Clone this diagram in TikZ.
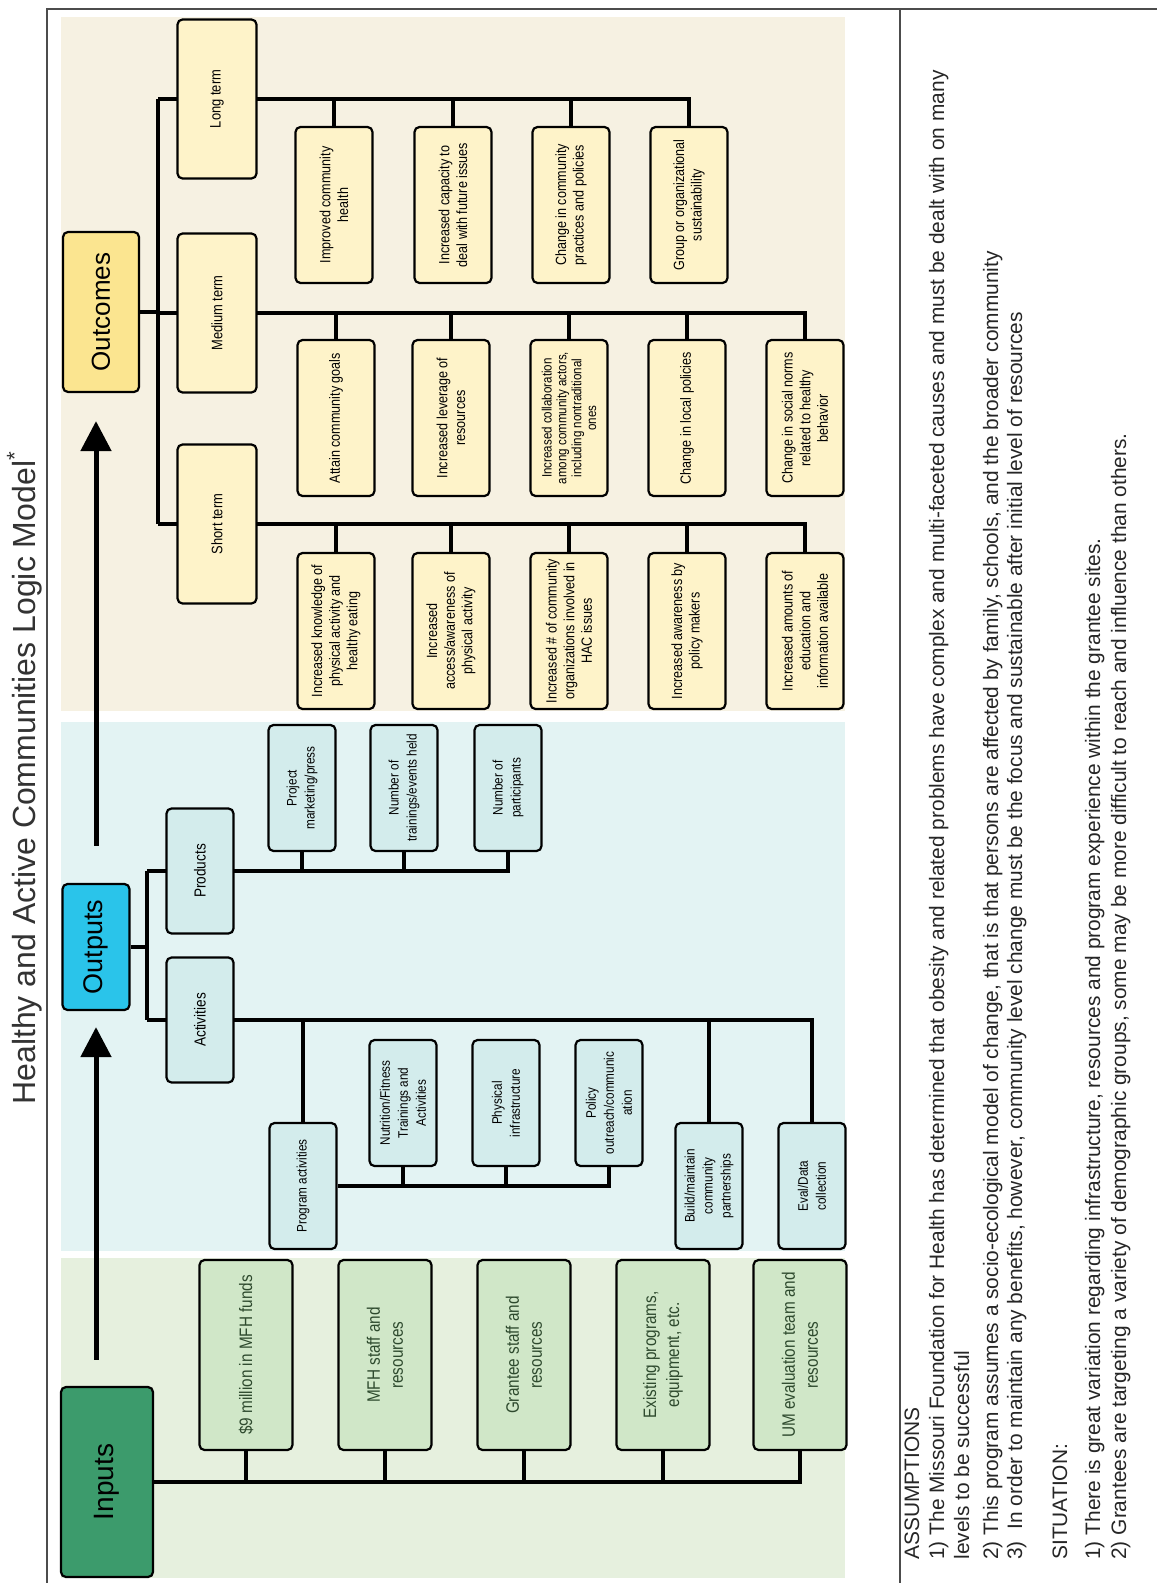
\documentclass[tikz,border=0pt]{standalone}
\usepackage{fontspec}
\setmainfont{Liberation Sans}
\newfontfamily\nf[FakeStretch=0.85]{Liberation Sans}
\usetikzlibrary{arrows.meta}
\pgfdeclarelayer{bg}
\pgfdeclarelayer{lines}
\pgfsetlayers{bg,lines,main}
\definecolor{beige}{HTML}{F6F1E2}
\definecolor{ltblue}{HTML}{E3F3F3}
\definecolor{ltgreen}{HTML}{E6F0DE}
\definecolor{ybox}{HTML}{FEF3C9}
\definecolor{bbox}{HTML}{D3ECEC}
\definecolor{gbox}{HTML}{D0E7C8}
\definecolor{yhead}{HTML}{FBE590}
\definecolor{bhead}{HTML}{2AC4EA}
\definecolor{ghead}{HTML}{3C9B6C}
\definecolor{gtext}{HTML}{2E4A2E}
\begin{document}
\begin{tikzpicture}[x=0.5pt,y=-0.5pt,
  box/.style={draw=black, line width=1.1pt, rounded corners=2.5pt, rotate=90, align=center, inner sep=1pt, text=black},
  head/.style={box, font=\fontsize{13}{15}\selectfont},
  term/.style={box, fill=ybox, minimum width=79.5pt, minimum height=39.5pt, font=\nf\fontsize{7.6}{9}\selectfont},
  ychild/.style={box, fill=ybox, minimum width=78pt, minimum height=38.5pt, font=\nf\fontsize{7.4}{8.8}\selectfont},
  bnode/.style={box, fill=bbox, minimum width=62.5pt, minimum height=33.5pt, font=\nf\fontsize{8}{9.5}\selectfont},
  bchild/.style={box, fill=bbox, minimum width=63pt, minimum height=33.5pt, font=\nf\fontsize{6.9}{9}\selectfont},
  gchild/.style={box, fill=gbox, minimum width=95pt, minimum height=46.5pt, text=gtext, font=\nf\fontsize{9}{11.5}\selectfont},
  conn/.style={line width=2pt, black},
  bigarrow/.style={line width=2.5pt, -{Triangle[width=15pt,length=15pt]}},
  note/.style={rotate=90, anchor=base west, inner sep=0pt, text=black!85, font=\fontsize{10.45}{12}\selectfont}
]
\useasboundingbox (0,0) rectangle (1156,1583);

% panels
\begin{pgfonlayer}{bg}
\fill[white] (0,0) rectangle (1156,1583);
\fill[beige] (61,17) rectangle (845,711);
\fill[ltblue] (61,722) rectangle (845,1251);
\fill[ltgreen] (61,1258) rectangle (845,1578);
\end{pgfonlayer}

% frame
\draw[line width=1.4pt, black!70] (47,1600) -- (47,9) -- (1170,9);
\draw[line width=1.4pt, black!70] (900,9) -- (900,1600);

% title
\node[rotate=90, anchor=base west, inner sep=0pt, text=black!80, font=\fontsize{16}{19}\selectfont] (title) at (35,1105) {Healthy and Active Communities Logic Model\textsuperscript{*}};

% headers
\node[head, fill=yhead, minimum width=80pt, minimum height=38pt] (outcomes) at (101,312) {Outcomes};
\node[head, fill=bhead, minimum width=63pt, minimum height=33.5pt, font=\fontsize{13.5}{15}\selectfont] (outputs) at (96,947) {Outputs};
\node[head, fill=ghead, minimum width=95pt, minimum height=46pt, font=\fontsize{14}{16}\selectfont] (inputs) at (107,1482) {Inputs};

% outcome terms
\node[term] (longt) at (217,99) {Long term};
\node[term] (medt) at (217,313) {Medium term};
\node[term] (shortt) at (217,524) {Short term};

% long term children
\node[ychild] (l1) at (334,205) {Improved community\\health};
\node[ychild] (l2) at (453,205) {Increased capacity to\\deal with future issues};
\node[ychild] (l3) at (571,205) {Change in community\\practices and policies};
\node[ychild] (l4) at (689,205) {Group or organizational\\sustainability};

% medium term children
\node[ychild] (m1) at (336,418) {Attain community goals};
\node[ychild] (m2) at (451,418) {Increased leverage of\\resources};
\node[ychild, font=\nf\fontsize{6.8}{7.4}\selectfont] (m3) at (569,418) {Increased collaboration\\among community actors,\\including nontraditional\\ones};
\node[ychild] (m4) at (687,418) {Change in local policies};
\node[ychild] (m5) at (805,418) {Change in social norms\\related to healthy\\behavior};

% short term children
\node[ychild] (s1) at (336,631) {Increased knowledge of\\physical activity and\\healthy eating};
\node[ychild] (s2) at (451,631) {Increased\\access/awareness of\\physical activity};
\node[ychild] (s3) at (569,631) {Increased \# of community\\organizations involved in\\HAC issues};
\node[ychild] (s4) at (687,631) {Increased awareness by\\policy makers};
\node[ychild] (s5) at (805,631) {Increased amounts of\\education and\\information available};

% outputs
\node[bnode] (products) at (200,871) {Products};
\node[bnode] (activities) at (200,1020) {Activities};
\node[bchild] (p1) at (302,788) {Project\\marketing/press};
\node[bchild] (p2) at (404,788) {Number of\\trainings/events held};
\node[bchild] (p3) at (508,788) {Number of\\participants};
\node[bchild] (progact) at (303,1186) {Program activities};
\node[bchild] (a1) at (403,1103) {Nutrition/Fitness\\Trainings and\\Activities};
\node[bchild] (a2) at (506,1103) {Physical\\infrastructure};
\node[bchild] (a3) at (609,1103) {Policy\\outreach/communic\\ation};
\node[bchild] (build) at (709,1186) {Build/maintain\\community\\partnerships};
\node[bchild] (evaldata) at (812,1186) {Eval/Data\\collection};

% inputs
\node[gchild] (i1) at (246,1355) {\$9 million in MFH funds};
\node[gchild] (i2) at (385,1355) {MFH staff and\\resources};
\node[gchild] (i3) at (524,1355) {Grantee staff and\\resources};
\node[gchild] (i4) at (663,1355) {Existing programs,\\equipment, etc.};
\node[gchild] (i5) at (800,1355) {UM evaluation team and\\resources};

% connectors
\begin{pgfonlayer}{lines}
\coordinate (obx) at (158,0);
\coordinate (pbx) at (147,0);
\draw[conn] (outcomes.south) -- (outcomes.south -| obx);
\draw[conn] (longt.north -| obx) -- (shortt.north -| obx);
\draw[conn] (longt.north -| obx) -- (longt.north -| l4) -- (l4.east);
\foreach \n in {l1,l2,l3} \draw[conn] (longt.north -| \n) -- (\n.east);
\draw[conn] (medt.north -| obx) -- (medt.north -| m5) -- (m5.east);
\foreach \n in {m1,m2,m3,m4} \draw[conn] (medt.north -| \n) -- (\n.east);
\draw[conn] (shortt.north -| obx) -- (shortt.north -| s5) -- (s5.east);
\foreach \n in {s1,s2,s3,s4} \draw[conn] (shortt.north -| \n) -- (\n.east);

\draw[conn] (outputs.south) -- (outputs.south -| pbx);
\draw[conn] (products.north -| pbx) -- (activities.north -| pbx);
\draw[conn] (products.north -| pbx) -- (products.north -| p3) -- (p3.west);
\foreach \n in {p1,p2} \draw[conn] (products.north -| \n) -- (\n.west);
\draw[conn] (activities.north -| pbx) -- (activities.north -| evaldata) -- (evaldata.east);
\foreach \n in {progact,build} \draw[conn] (activities.north -| \n) -- (\n.east);
\draw[conn] (progact.south) -- (progact.south -| a3) -- (a3.west);
\foreach \n in {a1,a2} \draw[conn] (progact.south -| \n) -- (\n.west);

\draw[conn] (inputs.south) -- (inputs.south -| i5) -- (i5.west);
\foreach \n in {i1,i2,i3,i4} \draw[conn] (inputs.south -| \n) -- (\n.west);
\end{pgfonlayer}

% big arrows
\draw[bigarrow, shorten <=13pt, shorten >=8pt] (inputs.east -| outputs) -- (outputs.west);
\draw[bigarrow, shorten <=18.5pt, shorten >=14pt] (outputs.east) -- (outputs.east |- outcomes.west);

% assumptions and situation
\node[note] (as0) at (919,1560) {ASSUMPTIONS};
\node[note] (as1) at (944,1560) {1) The Missouri Foundation for Health has determined that obesity and related problems have complex and multi-faceted causes and must be dealt with on many};
\node[note] (as2) at (969,1560) {levels to be successful};
\node[note] (as3) at (998,1560) {2) This program assumes a socio-ecological model of change, that is that persons are affected by family, schools, and the broader community};
\node[note] (as4) at (1022,1560) {3)\ \ In order to maintain any benefits, however, community level change must be the focus and sustainable after initial level of resources};
\node[note] (as5) at (1067,1560) {SITUATION:};
\node[note] (as6) at (1100,1560) {1) There is great variation regarding infrastructure, resources and program experience within the grantee sites.};
\node[note] (as7) at (1126,1560) {2) Grantees are targeting a variety of demographic groups, some may be more difficult to reach and influence than others.};
\end{tikzpicture}
\end{document}
